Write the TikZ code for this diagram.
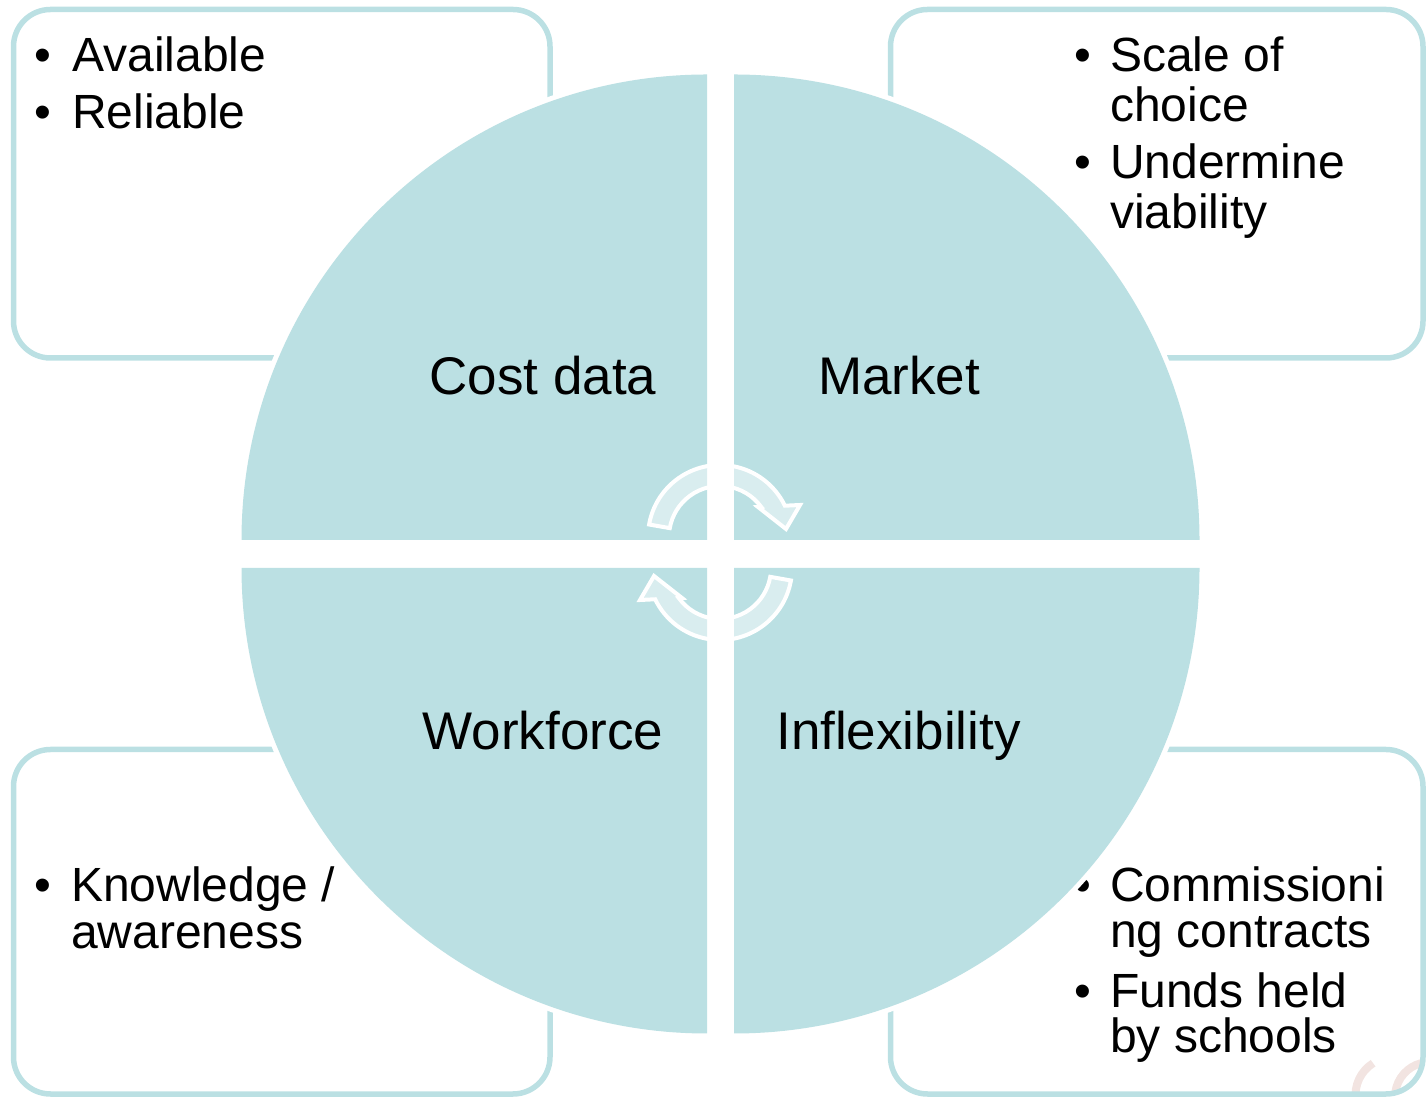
\documentclass[tikz,border=0pt]{standalone}
\usepackage{fontspec}
\setmainfont{Liberation Sans}
\definecolor{tealA}{HTML}{BBE0E3}
\definecolor{markA}{HTML}{F2E4E1}
\begin{document}
\begin{tikzpicture}[x=1pt,y=1pt,
  box/.style={draw=tealA, line width=5.5pt, rounded corners=37pt},
  quad/.style={fill=tealA},
  halo/.style={fill=white},
  bt/.style={anchor=base west, inner sep=0pt, font=\fontsize{48}{50}\selectfont},
  bul/.style={anchor=base, inner sep=0pt, font=\fontsize{48}{50}\selectfont},
  lab/.style={anchor=base, inner sep=0pt, font=\fontsize{53}{55}\selectfont},
  cyc/.style={fill=white, fill opacity=0.45, draw=white, draw opacity=1, line width=4pt, line join=miter},
  wmark/.style={draw=markA, line width=8pt}]
\useasboundingbox (0,0) rectangle (1426,1097);
% faint watermark fragment
\begin{scope}
\clip (890.5,3) rectangle (1423,347.5);
\draw[wmark] (1393,2) ++(122:37.5) arc[start angle=122,end angle=188,radius=37.5];
\draw[wmark] (1430,0) ++(172:35) arc[start angle=172,end angle=105,radius=35];
\end{scope}
% boxes
\draw[box] (13.5,739) rectangle (550,1087.5);
\draw[box] (890.5,739) rectangle (1423,1087.5);
\draw[box] (13.5,3) rectangle (550,347.5);
\draw[box] (890.5,3) rectangle (1423,347.5);
% box texts
\node[bul] (tlb1) at (43,1025.5) {•};
\node[bt] (tl1) at (72,1025.5) {Available};
\node[bul] (tlb2) at (43,968.5) {•};
\node[bt] (tl2) at (72,968.5) {Reliable};
\node[bul] (trb1) at (1083,1025) {•};
\node[bt] (tr1) at (1110,1025) {Scale of};
\node[bt] (tr2) at (1110,975) {choice};
\node[bul] (trb2) at (1083,918) {•};
\node[bt] (tr3) at (1110,918) {Undermine};
\node[bt] (tr4) at (1110,868) {viability};
\node[bul] (blb1) at (43,195) {•};
\node[bt] (bl1) at (71,195) {Knowledge /};
\node[bt] (bl2) at (71,148) {awareness};
\node[bul] (brb1) at (1083,195) {•};
\node[bt] (br1) at (1110,195) {Commissioni};
\node[bt] (br2) at (1110,149) {ng contracts};
\node[bul] (brb2) at (1083,89) {•};
\node[bt] (br3) at (1110,89) {Funds held};
\node[bt] (br4) at (1110,44) {by schools};
% white halos
\fill[halo] (707,557) -- (236.5,557) arc[start angle=180,end angle=90,radius=470.5] -- cycle;
\fill[halo] (734,557) -- (734,1027.5) arc[start angle=90,end angle=0,radius=470.5] -- cycle;
\fill[halo] (707,529) -- (236.5,529) arc[start angle=180,end angle=270,radius=470.5] -- cycle;
\fill[halo] (734,529) -- (1204.5,529) arc[start angle=0,end angle=-90,radius=470.5] -- cycle;
% quadrants
\fill[quad] (707,557) -- (241.5,557) arc[start angle=180,end angle=90,radius=465.5] -- cycle;
\fill[quad] (734,557) -- (734,1022.5) arc[start angle=90,end angle=0,radius=465.5] -- cycle;
\fill[quad] (707,529) -- (241.5,529) arc[start angle=180,end angle=270,radius=465.5] -- cycle;
\fill[quad] (734,529) -- (1199.5,529) arc[start angle=0,end angle=-90,radius=465.5] -- cycle;
% labels
\node[lab] (cost) at (543,702) {Cost data};
\node[lab] (market) at (899,702) {Market};
\node[lab] (work) at (543,347) {Workforce};
\node[lab] (infl) at (898.5,347) {Inflexibility};
% cycle arrows
\begin{scope}[shift={(720,560)}]
\draw[cyc] (170:72) arc[start angle=170,end angle=25.75,radius=72] -- (80,32) -- (66,8) -- (38,30) -- (36.3:51) arc[start angle=36.3,end angle=170,radius=51] -- cycle;
\end{scope}
\begin{scope}[shift={(720,529)},rotate=180]
\draw[cyc] (170:72) arc[start angle=170,end angle=25.75,radius=72] -- (80,32) -- (66,8) -- (38,30) -- (36.3:51) arc[start angle=36.3,end angle=170,radius=51] -- cycle;
\end{scope}
\end{tikzpicture}
\end{document}
